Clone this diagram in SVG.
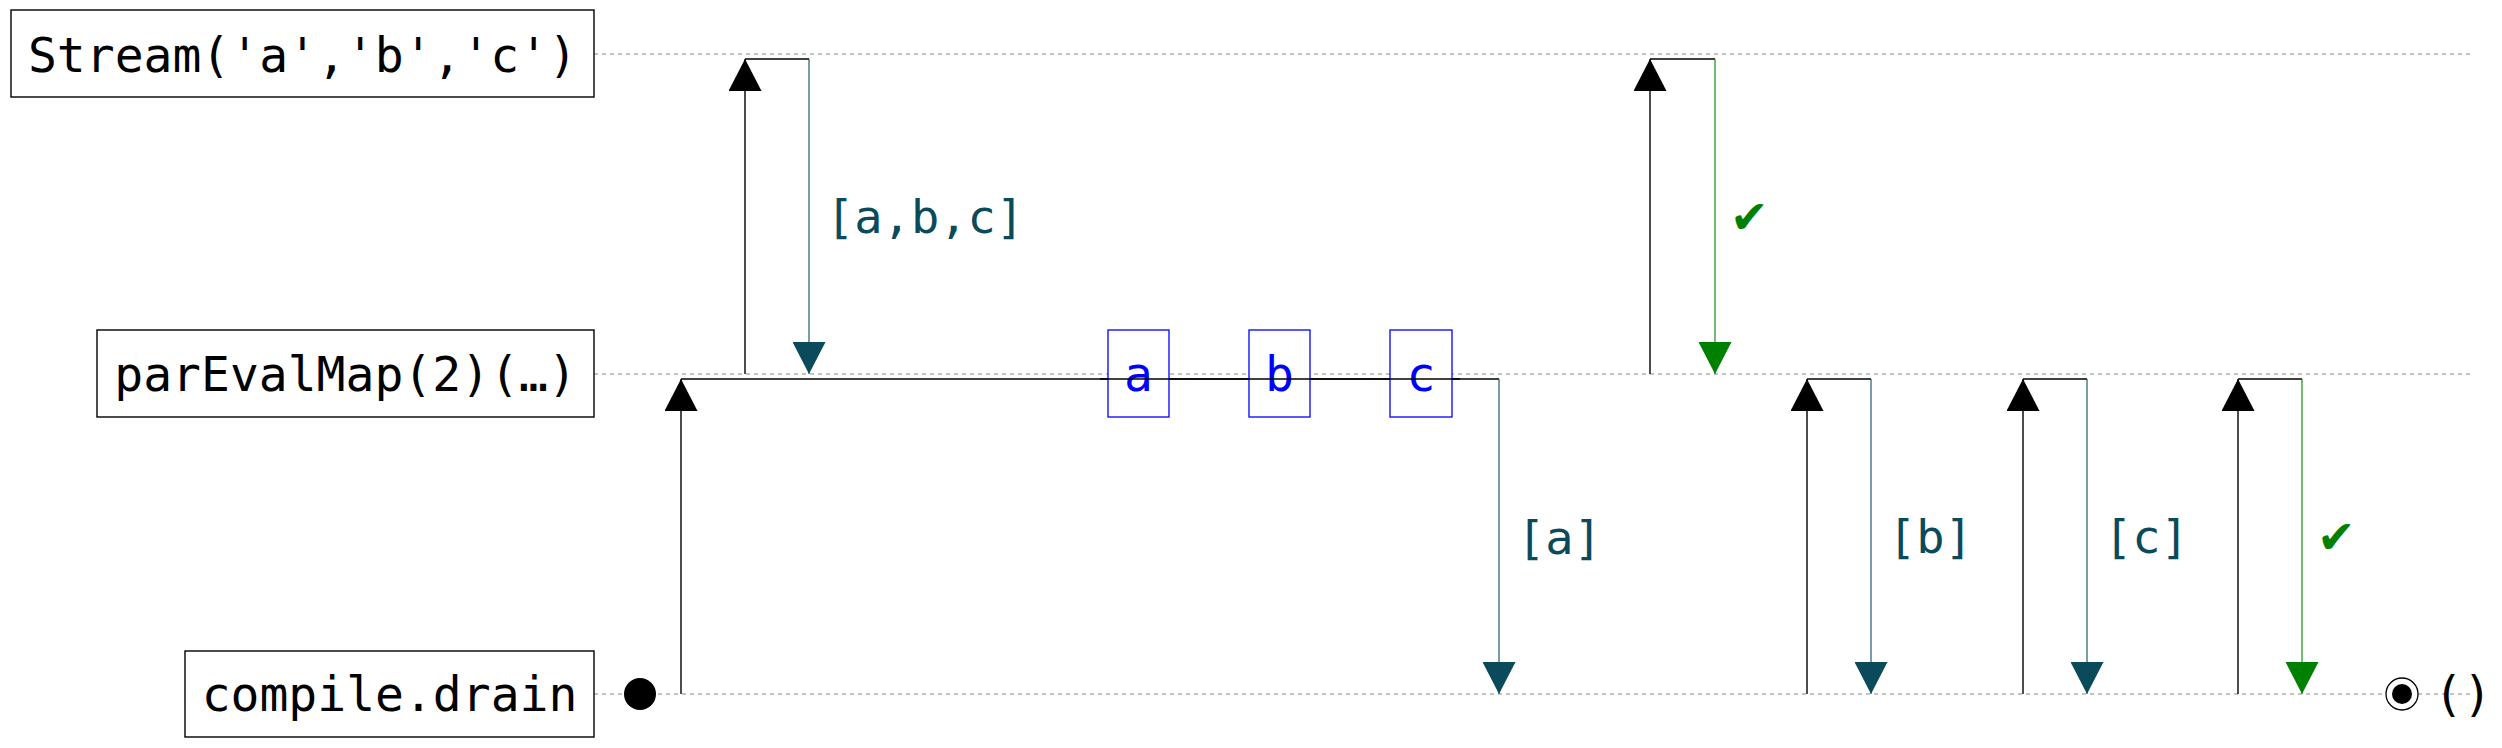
<svg xmlns="http://www.w3.org/2000/svg" width="2502" height="748" viewBox="0 0 2502 748">
<style>
.box{fill:#fff;stroke:#000;stroke-width:1.4}
.note{fill:#fff;stroke:#0000ff;stroke-width:1.3}
.life{stroke:#888;stroke-width:1.2;stroke-dasharray:4 4;fill:none}
.t{font-family:"DejaVu Sans Mono","Liberation Mono",monospace;font-size:48px;fill:#000}
.nt{font-family:"DejaVu Sans Mono","Liberation Mono",monospace;font-size:48px;fill:#0000ff}
.lbl{font-family:"DejaVu Sans Mono","Liberation Mono",monospace;font-size:47px;fill:#0b4a5b}
.ok{font-family:"DejaVu Sans","Noto Sans",sans-serif;font-size:46px;fill:#008000}
.call{stroke:#000;stroke-width:1.4;fill:none}
.ret{stroke:#0b4a5b;stroke-width:1.1;fill:none}
.retok{stroke:#008000;stroke-width:1.1;fill:none}
</style>
<defs>
<marker id="ab" viewBox="0 0 32 33" refX="32" refY="16.5" markerWidth="32" markerHeight="33" markerUnits="userSpaceOnUse" orient="auto"><path d="M0,0 L32,16.5 L0,33 z" fill="#000"/></marker>
<marker id="at" viewBox="0 0 32 33" refX="32" refY="16.5" markerWidth="32" markerHeight="33" markerUnits="userSpaceOnUse" orient="auto"><path d="M0,0 L32,16.5 L0,33 z" fill="#0b4a5b"/></marker>
<marker id="ag" viewBox="0 0 32 33" refX="32" refY="16.5" markerWidth="32" markerHeight="33" markerUnits="userSpaceOnUse" orient="auto"><path d="M0,0 L32,16.5 L0,33 z" fill="#008000"/></marker>
</defs>
<rect width="2502" height="748" fill="#fff"/>
<g id="lifelines">
<line class="life" x1="594" y1="54" x2="2470" y2="54"/>
<line class="life" x1="594" y1="374" x2="2470" y2="374"/>
<line class="life" x1="594" y1="694" x2="2470" y2="694"/>
</g>
<g id="node-stream"><rect class="box" x="11" y="10" width="583" height="87"/><text class="t" x="302.5" y="72" text-anchor="middle">Stream('a','b','c')</text></g>
<g id="node-pareval"><rect class="box" x="97" y="330" width="497" height="87"/><text class="t" x="345.5" y="391" text-anchor="middle">parEvalMap(2)(…)</text></g>
<g id="node-drain"><rect class="box" x="185" y="651" width="409" height="86"/><text class="t" x="389.5" y="711" text-anchor="middle">compile.drain</text></g>
<g id="connectors">
<circle cx="640" cy="694" r="16" fill="#000"/>
<path class="call" d="M681,694 V379" marker-end="url(#ab)"/>
<path class="call" d="M681,379 H1499"/>
<path class="ret" d="M1499,379 V694" marker-end="url(#at)"/>
<text class="lbl" x="1517" y="554">[a]</text>
<path class="call" d="M745,374 V59" marker-end="url(#ab)"/>
<path class="call" d="M745,59 H809"/>
<path class="ret" d="M809,59 V374" marker-end="url(#at)"/>
<text class="lbl" x="826" y="233">[a,b,c]</text>
<path class="call" d="M1650,374 V59" marker-end="url(#ab)"/>
<path class="call" d="M1650,59 H1715"/>
<path class="retok" d="M1715,59 V374" marker-end="url(#ag)"/>
<text class="ok" x="1730" y="233">✔</text>
<path class="call" d="M1807,694 V379" marker-end="url(#ab)"/>
<path class="call" d="M1807,379 H1871"/>
<path class="ret" d="M1871,379 V694" marker-end="url(#at)"/>
<text class="lbl" x="1888" y="553">[b]</text>
<path class="call" d="M2023,694 V379" marker-end="url(#ab)"/>
<path class="call" d="M2023,379 H2087"/>
<path class="ret" d="M2087,379 V694" marker-end="url(#at)"/>
<text class="lbl" x="2104" y="553">[c]</text>
<path class="call" d="M2238,694 V379" marker-end="url(#ab)"/>
<path class="call" d="M2238,379 H2302"/>
<path class="retok" d="M2302,379 V694" marker-end="url(#ag)"/>
<text class="ok" x="2317" y="553">✔</text>
<circle cx="2402" cy="694" r="16" fill="#fff" stroke="#000" stroke-width="1.3"/>
<circle cx="2402" cy="694" r="10" fill="#000"/>
<text class="t" x="2434" y="711">()</text>
</g>
<g id="note-a"><rect class="note" x="1108" y="330" width="61" height="87"/><text class="nt" x="1138.5" y="391" text-anchor="middle">a</text></g>
<g id="note-b"><rect class="note" x="1249" y="330" width="61" height="87"/><text class="nt" x="1279.5" y="391" text-anchor="middle">b</text></g>
<g id="note-c"><rect class="note" x="1390" y="330" width="62" height="87"/><text class="nt" x="1421" y="391" text-anchor="middle">c</text></g>
<g id="bar-over-notes"><path class="call" d="M1100,379 H1460"/></g>
</svg>
